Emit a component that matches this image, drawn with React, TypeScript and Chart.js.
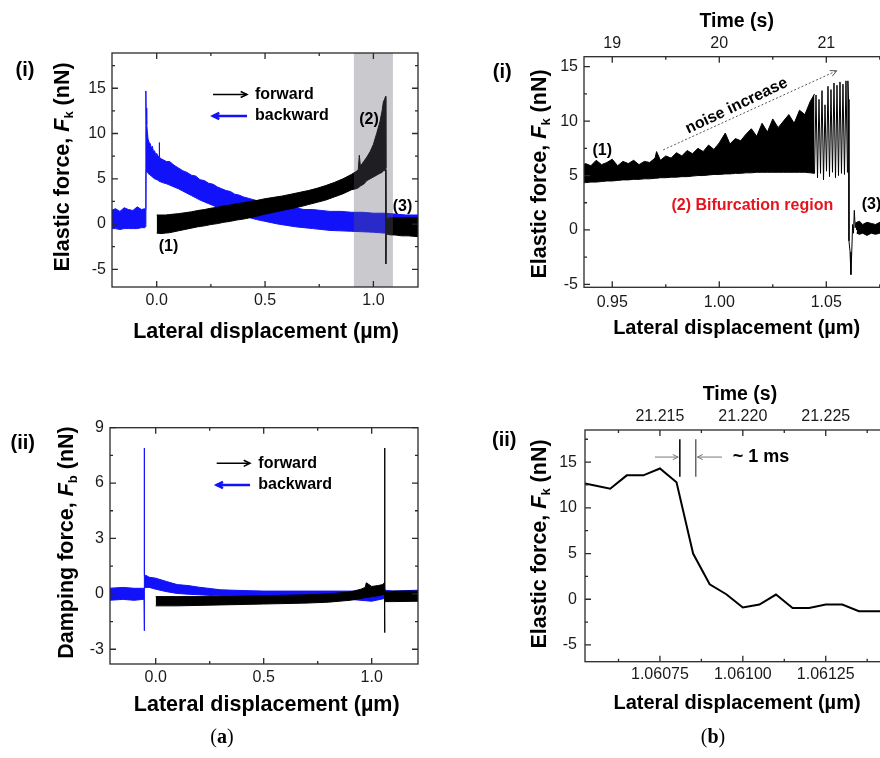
import React, { useEffect, useRef } from "react";
import { Chart, registerables } from "chart.js";

Chart.register(...registerables);

const FONT = '"Liberation Sans", Arial, Helvetica, sans-serif';
const SERIF = '"Liberation Serif", "DejaVu Serif", serif';
const BLUE = "rgb(18,18,250)";
const BLACK = "#000000";
const RED = "rgb(230,20,28)";
const TICK_COLOR = "#1a1a1a";

// ---------------- Panel (a)(i): elastic force ----------------
const aiBwdX = [-0.21, -0.19, -0.17, -0.15, -0.13, -0.11, -0.09, -0.07, -0.056, -0.051, -0.05, -0.049, -0.046, -0.043, -0.04, -0.035, -0.03, -0.025, -0.02, -0.015, -0.01, -0.005, 0.0, 0.006, 0.011, 0.012, 0.013, 0.02, 0.03, 0.045, 0.06, 0.08, 0.1, 0.12, 0.14, 0.16, 0.18, 0.2, 0.22, 0.24, 0.26, 0.28, 0.3, 0.32, 0.34, 0.36, 0.38, 0.4, 0.43, 0.46, 0.5, 0.53, 0.56, 0.6, 0.64, 0.68, 0.72, 0.76, 0.8, 0.85, 0.9, 0.95, 1.0, 1.05, 1.1, 1.15, 1.21];
const aiBwdHi = [1.5, 1.7, 1.4, 1.8, 1.6, 1.5, 1.9, 1.6, 1.7, 1.6, 14.7, 12.8, 11.0, 10.2, 9.4, 9.0, 8.9, 8.4, 8.6, 8.0, 8.1, 7.7, 7.8, 7.5, 7.4, 9.0, 7.4, 7.2, 7.1, 6.9, 6.9, 6.5, 6.2, 5.9, 5.7, 5.4, 5.3, 4.9, 4.8, 4.5, 4.4, 4.1, 3.9, 3.7, 3.6, 3.3, 3.2, 3.0, 2.8, 2.6, 2.4, 2.2, 2.0, 1.9, 1.8, 1.6, 1.6, 1.5, 1.4, 1.4, 1.3, 1.3, 1.2, 1.2, 1.1, 1.0, 1.0];
const aiBwdLo = [-0.5, -0.5, -0.6, -0.5, -0.5, -0.5, -0.5, -0.4, -0.4, -0.3, 0.0, 5.9, 5.8, 5.7, 5.6, 5.5, 5.4, 5.3, 5.2, 5.1, 5.0, 4.95, 4.9, 4.85, 4.8, 4.75, 4.7, 4.65, 4.55, 4.45, 4.3, 4.1, 3.9, 3.65, 3.4, 3.15, 2.9, 2.65, 2.45, 2.25, 2.05, 1.85, 1.65, 1.5, 1.35, 1.2, 1.05, 0.9, 0.7, 0.5, 0.3, 0.15, 0.0, -0.15, -0.3, -0.4, -0.5, -0.6, -0.7, -0.75, -0.8, -0.85, -0.9, -1.0, -1.05, -1.1, -1.2];

const aiFwdX = [0.0, 0.02, 0.04, 0.06, 0.08, 0.1, 0.13, 0.16, 0.19, 0.22, 0.25, 0.28, 0.31, 0.34, 0.37, 0.4, 0.43, 0.46, 0.5, 0.54, 0.58, 0.62, 0.66, 0.7, 0.74, 0.78, 0.82, 0.86, 0.9, 0.92, 0.93, 0.935, 0.94, 0.955, 0.97, 0.985, 1.0, 1.015, 1.03, 1.04, 1.046, 1.052, 1.056, 1.057, 1.058, 1.059, 1.08, 1.1, 1.13, 1.16, 1.21];
const aiFwdHi = [1.0, 1.0, 1.0, 1.05, 1.1, 1.15, 1.25, 1.35, 1.5, 1.6, 1.75, 1.85, 2.0, 2.1, 2.25, 2.35, 2.5, 2.6, 2.8, 2.95, 3.1, 3.3, 3.5, 3.7, 3.95, 4.25, 4.6, 5.0, 5.5, 5.8, 6.0, 7.6, 6.4, 6.9, 7.4, 8.0, 8.8, 10.0, 11.3, 12.5, 13.5, 13.8, 14.1, 13.9, 6.2, 0.6, 0.7, 0.7, 0.7, 0.7, 0.7];
const aiFwdLo = [-1.0, -1.05, -1.0, -0.95, -0.85, -0.75, -0.6, -0.45, -0.3, -0.2, -0.05, 0.05, 0.2, 0.3, 0.45, 0.55, 0.7, 0.85, 1.1, 1.3, 1.5, 1.7, 1.9, 2.15, 2.4, 2.65, 3.0, 3.35, 3.8, 3.9, 4.0, 4.1, 4.2, 4.4, 4.8, 5.0, 5.2, 5.4, 5.6, 5.7, 5.9, 5.9, 6.0, 6.0, -4.4, -1.1, -1.2, -1.2, -1.3, -1.3, -1.4];

const aiBifurcation = [0.91, 1.09];

// ---------------- Panel (a)(ii): damping force ----------------
const aiiBwdX = [-0.22, -0.15, -0.1, -0.06, -0.054, -0.053, -0.052, -0.045, -0.03, 0.0, 0.05, 0.1, 0.15, 0.2, 0.3, 0.4, 0.5, 0.6, 0.8, 1.0, 1.06, 1.1, 1.22];
const aiiBwdHi = [0.3, 0.35, 0.3, 0.3, 0.3, 7.9, 1.0, 1.0, 0.9, 0.85, 0.67, 0.5, 0.45, 0.36, 0.22, 0.18, 0.15, 0.15, 0.15, 0.15, 0.2, 0.15, 0.2];
const aiiBwdLo = [-0.35, -0.3, -0.35, -0.3, -0.3, -2.0, 0.3, 0.35, 0.35, 0.25, 0.12, 0.02, -0.02, -0.05, -0.12, -0.15, -0.18, -0.18, -0.2, -0.4, -0.25, -0.3, -0.3];

const aiiFwdX = [0.0, 0.1, 0.3, 0.5, 0.7, 0.8, 0.9, 0.95, 0.97, 0.975, 1.0, 1.03, 1.05, 1.059, 1.06, 1.061, 1.1, 1.22];
const aiiFwdHi = [-0.15, -0.15, -0.15, -0.1, -0.05, 0.0, 0.1, 0.25, 0.35, 0.6, 0.4, 0.45, 0.5, 0.6, 7.9, 0.1, 0.15, 0.15];
const aiiFwdLo = [-0.65, -0.65, -0.6, -0.55, -0.5, -0.45, -0.35, -0.25, -0.2, -0.2, -0.15, -0.1, -0.05, 0.0, -2.1, -0.42, -0.42, -0.4];

// ---------------- Panel (b)(i): zoom of the bifurcation ----------------
const biBandX = [0.935, 0.9375, 0.94, 0.9425, 0.945, 0.9475, 0.95, 0.9525, 0.955, 0.9575, 0.96, 0.9625, 0.965, 0.9675, 0.97, 0.9707, 0.9725, 0.975, 0.9775, 0.98, 0.9825, 0.985, 0.9875, 0.99, 0.9925, 0.995, 0.9975, 1.0, 1.0028, 1.005, 1.0075, 1.01, 1.0125, 1.015, 1.0175, 1.02, 1.0225, 1.025, 1.0275, 1.03, 1.0325, 1.035, 1.0375, 1.04, 1.0425, 1.0445];
const biBandHi = [5.8, 6.1, 5.9, 6.4, 6.0, 6.2, 6.5, 5.9, 6.3, 6.1, 6.4, 6.0, 6.3, 6.2, 6.6, 7.2, 6.4, 6.8, 6.6, 7.1, 6.8, 7.3, 7.0, 7.5, 7.2, 7.8, 7.4, 8.0, 8.9, 7.9, 8.4, 8.2, 8.8, 9.3, 8.6, 9.8, 9.0, 10.2, 9.4, 10.0, 10.6, 9.8, 11.0, 10.6, 11.8, 12.5];
const biBandLo = [4.3, 4.35, 4.4, 4.4, 4.45, 4.5, 4.5, 4.55, 4.6, 4.6, 4.65, 4.65, 4.7, 4.7, 4.75, 4.75, 4.8, 4.8, 4.85, 4.85, 4.9, 4.9, 4.95, 5.0, 5.0, 5.05, 5.1, 5.1, 5.15, 5.15, 5.2, 5.2, 5.25, 5.25, 5.3, 5.3, 5.3, 5.3, 5.3, 5.3, 5.3, 5.3, 5.3, 5.3, 5.25, 5.2];

const biBifX = [1.0445, 1.0452, 1.0459, 1.0466, 1.0473, 1.048, 1.0487, 1.0494, 1.0501, 1.0508, 1.0515, 1.0522, 1.0529, 1.0536, 1.0543, 1.055, 1.0557, 1.0564, 1.0571, 1.0578, 1.0585, 1.0592, 1.0599, 1.0601, 1.0604, 1.0606, 1.0611, 1.0615, 1.0619, 1.0623, 1.0627, 1.0631, 1.0635, 1.0639, 1.0642];
const biBifY = [5.2, 12.4, 4.8, 12.0, 5.2, 12.8, 4.6, 11.5, 5.4, 13.2, 4.9, 12.9, 5.3, 13.5, 4.8, 13.3, 5.0, 13.6, 5.2, 13.4, 5.1, 13.7, 5.3, 13.7, 12.0, -1.0, -2.0, -4.1, -2.0, 0.5, -0.3, 1.8, 0.2, 0.7, 0.0];

const biTailX = [1.0642, 1.0655, 1.067, 1.069, 1.071, 1.073, 1.075, 1.08, 1.09];
const biTailHi = [0.7, 0.8, 0.5, 0.7, 0.6, 0.5, 0.7, 0.6, 0.6];
const biTailLo = [-0.3, -0.4, -0.3, -0.5, -0.3, -0.4, -0.3, -0.3, -0.3];

// ---------------- Panel (b)(ii): the ~1 ms drop ----------------
const biiX = [1.0605, 1.06055, 1.0606, 1.06065, 1.0607, 1.06075, 1.0608, 1.06085, 1.0609, 1.06095, 1.061, 1.06105, 1.0611, 1.06115, 1.0612, 1.06125, 1.0613, 1.06135, 1.0614, 1.06145];
const biiY = [12.85, 12.47, 12.08, 13.55, 13.55, 14.3, 12.8, 5.0, 1.64, 0.55, -0.9, -0.58, 0.51, -0.95, -0.95, -0.58, -0.58, -1.3, -1.3, -1.3];

// ---------------- Ticks ----------------
const aXTicks = [0, 0.5, 1.0];
const aXTickLabels = ["0.0", "0.5", "1.0"];
const aXMinor = [0.25, 0.75];
const aiYTicks = [-5, 0, 5, 10, 15];
const aiYTickLabels = ["-5", "0", "5", "10", "15"];
const aiYMinor = [-2.5, 2.5, 7.5, 12.5, 17.5];
const aiiYTicks = [-3, 0, 3, 6, 9];
const aiiYTickLabels = ["-3", "0", "3", "6", "9"];
const aiiYMinor = [-1.5, 1.5, 4.5, 7.5];
const biXTicks = [0.95, 1.0, 1.05];
const biXTickLabels = ["0.95", "1.00", "1.05"];
const biXMinor = [0.975, 1.025, 1.075];
const biTimeTicks = [19, 20, 21];
const biTimeLabels = ["19", "20", "21"];
const bYTicks = [-5, 0, 5, 10, 15];
const bYTickLabels = ["-5", "0", "5", "10", "15"];
const bYMinor = [-2.5, 2.5, 7.5, 12.5, 17.5];
const biiXTicks = [1.06075, 1.061, 1.06125];
const biiXTickLabels = ["1.06075", "1.06100", "1.06125"];
const biiXMinor = [1.060625, 1.060875, 1.061125, 1.061375];
const biiTimeTicks = [21.215, 21.22, 21.225];
const biiTimeLabels = ["21.215", "21.220", "21.225"];

// time axis: time = t0 + (x - x0) * rate
const timeRate = 20; // s per µm
const biTimeRef = { x0: 0.95, t0: 19 };
const biiTimeRef = { x0: 1.06075, t0: 21.215 };

// ---------------- drawing helpers ----------------
type Part = { t: string; it?: boolean; sub?: boolean };

function richText(ctx: CanvasRenderingContext2D, parts: Part[], x: number, y: number, size: number, angle = 0, color = "#000") {
  ctx.save();
  ctx.translate(x, y);
  ctx.rotate(angle);
  ctx.fillStyle = color;
  ctx.textBaseline = "middle";
  ctx.textAlign = "left";
  const f = (p: Part) => `${p.it ? "italic " : ""}bold ${p.sub ? Math.round(size * 0.62) : size}px ${FONT}`;
  let w = 0;
  const ws = parts.map((p) => {
    ctx.font = f(p);
    const m = ctx.measureText(p.t).width;
    w += m;
    return m;
  });
  let cx = -w / 2;
  parts.forEach((p, i) => {
    ctx.font = f(p);
    ctx.fillText(p.t, cx, p.sub ? size * 0.3 : 0);
    cx += ws[i];
  });
  ctx.restore();
}

function label(ctx: CanvasRenderingContext2D, t: string, x: number, y: number, size: number, opt: { color?: string; align?: CanvasTextAlign; angle?: number } = {}) {
  ctx.save();
  ctx.translate(x, y);
  ctx.rotate(opt.angle || 0);
  ctx.font = `bold ${size}px ${FONT}`;
  ctx.fillStyle = opt.color || "#000";
  ctx.textAlign = opt.align || "center";
  ctx.textBaseline = "middle";
  ctx.fillText(t, 0, 0);
  ctx.restore();
}

function arrow(ctx: CanvasRenderingContext2D, x1: number, y1: number, x2: number, y2: number, color: string, lw: number, head: number, dash?: number[]) {
  ctx.save();
  ctx.strokeStyle = color;
  ctx.lineWidth = lw;
  if (dash) ctx.setLineDash(dash);
  ctx.beginPath();
  ctx.moveTo(x1, y1);
  ctx.lineTo(x2, y2);
  ctx.stroke();
  ctx.setLineDash([]);
  const a = Math.atan2(y2 - y1, x2 - x1);
  ctx.beginPath();
  ctx.moveTo(x2 - head * Math.cos(a - 0.45), y2 - head * Math.sin(a - 0.45));
  ctx.lineTo(x2, y2);
  ctx.lineTo(x2 - head * Math.cos(a + 0.45), y2 - head * Math.sin(a + 0.45));
  ctx.stroke();
  ctx.restore();
}

function caption(ctx: CanvasRenderingContext2D, letter: string, x: number, y: number) {
  ctx.save();
  ctx.textBaseline = "middle";
  ctx.fillStyle = "#000";
  const size = 20;
  const pn = `${size}px ${SERIF}`;
  const pb = `bold ${size}px ${SERIF}`;
  ctx.font = pn;
  const w1 = ctx.measureText("(").width;
  const w3 = ctx.measureText(")").width;
  ctx.font = pb;
  const w2 = ctx.measureText(letter).width;
  let cx = x - (w1 + w2 + w3) / 2;
  ctx.font = pn;
  ctx.fillText("(", cx, y);
  cx += w1;
  ctx.font = pb;
  ctx.fillText(letter, cx, y);
  cx += w2;
  ctx.font = pn;
  ctx.fillText(")", cx, y);
  ctx.restore();
}

function band(x: number[], hi: number[], lo: number[], color: string) {
  return [
    { data: x.map((v, i) => ({ x: v, y: hi[i] })), borderColor: color, backgroundColor: color, borderWidth: 1, pointRadius: 0, fill: "+1" },
    { data: x.map((v, i) => ({ x: v, y: lo[i] })), borderColor: color, backgroundColor: color, borderWidth: 1, pointRadius: 0, fill: false },
  ];
}

function line(x: number[], y: number[], color: string, width: number) {
  return { data: x.map((v, i) => ({ x: v, y: y[i] })), borderColor: color, backgroundColor: color, borderWidth: width, pointRadius: 0, fill: false };
}

interface Spec {
  W: number;
  H: number;
  plot: { l: number; t: number; r: number; b: number };
  xMin: number;
  xMax: number;
  yMin: number;
  yMax: number;
  xTicks: number[];
  xLabels: string[];
  xMinor: number[];
  yTicks: number[];
  yLabels: string[];
  yMinor: number[];
  top?: { ref: { x0: number; t0: number }; ticks: number[]; labels: string[]; pad: number };
  xPad: number;
  yPad: number;
  datasets: any[];
  overlay?: (chart: any) => void;
  annotate: (chart: any) => void;
}

function frame(chart: any, s: Spec) {
  const { ctx, chartArea: ca, scales } = chart;
  ctx.save();
  ctx.strokeStyle = "#2a2a2a";
  ctx.lineWidth = 1.3;
  ctx.strokeRect(ca.left, ca.top, ca.right - ca.left, ca.bottom - ca.top);
  const xs = scales.x;
  const ys = scales.y;
  const vt = (vals: number[], len: number) => {
    vals.forEach((v) => {
      const px = xs.getPixelForValue(v);
      if (px < ca.left - 0.5 || px > ca.right + 0.5) return;
      ctx.beginPath();
      ctx.moveTo(px, ca.bottom);
      ctx.lineTo(px, ca.bottom - len);
      ctx.moveTo(px, ca.top);
      ctx.lineTo(px, ca.top + len);
      ctx.stroke();
    });
  };
  const ht = (vals: number[], len: number) => {
    vals.forEach((v) => {
      const py = ys.getPixelForValue(v);
      if (py < ca.top - 0.5 || py > ca.bottom + 0.5) return;
      ctx.beginPath();
      ctx.moveTo(ca.left, py);
      ctx.lineTo(ca.left + len, py);
      ctx.moveTo(ca.right, py);
      ctx.lineTo(ca.right - len, py);
      ctx.stroke();
    });
  };
  vt(s.xTicks, 6);
  vt(s.xMinor, 3);
  ht(s.yTicks, 6);
  ht(s.yMinor, 3);
  ctx.restore();
}

function makeConfig(s: Spec): any {
  const tickFont = { family: FONT, size: 16 };
  const scales: any = {
    x: {
      type: "linear",
      position: "bottom",
      min: s.xMin,
      max: s.xMax,
      bounds: "data",
      grid: { display: false, drawTicks: false },
      border: { display: false },
      ticks: {
        font: tickFont,
        color: TICK_COLOR,
        padding: s.xPad,
        autoSkip: false,
        maxRotation: 0,
        minRotation: 0,
        callback: (_v: any, i: number) => s.xLabels[i],
      },
      afterBuildTicks: (sc: any) => {
        sc.ticks = s.xTicks.map((v) => ({ value: v }));
      },
      afterFit: (sc: any) => {
        sc.height = s.H - s.plot.b;
      },
    },
    y: {
      type: "linear",
      position: "left",
      min: s.yMin,
      max: s.yMax,
      bounds: "data",
      grid: { display: false, drawTicks: false },
      border: { display: false },
      ticks: {
        font: tickFont,
        color: TICK_COLOR,
        padding: s.yPad,
        autoSkip: false,
        callback: (_v: any, i: number) => s.yLabels[i],
      },
      afterBuildTicks: (sc: any) => {
        sc.ticks = s.yTicks.map((v) => ({ value: v }));
      },
      afterFit: (sc: any) => {
        sc.width = s.plot.l;
      },
    },
  };
  if (s.top) {
    const tp = s.top;
    scales.x2 = {
      type: "linear",
      position: "top",
      axis: "x",
      min: tp.ref.t0 + (s.xMin - tp.ref.x0) * timeRate,
      max: tp.ref.t0 + (s.xMax - tp.ref.x0) * timeRate,
      bounds: "data",
      grid: { display: false, drawTicks: false },
      border: { display: false },
      ticks: {
        font: tickFont,
        color: TICK_COLOR,
        padding: tp.pad,
        autoSkip: false,
        maxRotation: 0,
        minRotation: 0,
        callback: (_v: any, i: number) => tp.labels[i],
      },
      afterBuildTicks: (sc: any) => {
        sc.ticks = tp.ticks.map((v) => ({ value: v }));
      },
      afterFit: (sc: any) => {
        sc.height = s.plot.t;
      },
    };
  }
  return {
    type: "line",
    data: { datasets: s.datasets },
    options: {
      responsive: false,
      maintainAspectRatio: false,
      animation: false,
      devicePixelRatio: 1,
      events: [],
      layout: { padding: { left: 0, right: s.W - s.plot.r, top: s.top ? 0 : s.plot.t, bottom: 0 } },
      plugins: { legend: { display: false }, tooltip: { enabled: false } },
      elements: { point: { radius: 0 }, line: { tension: 0 } },
      scales,
    },
    plugins: [
      {
        id: "deco",
        afterDraw: (chart: any) => {
          if (s.overlay) s.overlay(chart);
          frame(chart, s);
          s.annotate(chart);
        },
      },
    ],
  };
}

const elasticTitle: Part[] = [{ t: "Elastic force, " }, { t: "F", it: true }, { t: "k", sub: true }, { t: " (nN)" }];
const dampingTitle: Part[] = [{ t: "Damping force, " }, { t: "F", it: true }, { t: "b", sub: true }, { t: " (nN)" }];
const xTitle: Part[] = [{ t: "Lateral displacement (\u00b5m)" }];

function legend(ctx: CanvasRenderingContext2D, x1: number, x2: number, tx: number, yF: number, yB: number) {
  arrow(ctx, x1, yF, x2, yF, BLACK, 1.5, 7);
  label(ctx, "forward", tx, yF, 16, { align: "left" });
  arrow(ctx, x2, yB, x1, yB, BLUE, 2.5, 7);
  label(ctx, "backward", tx, yB, 16, { align: "left" });
}

const specAi: Spec = {
  W: 440,
  H: 360,
  plot: { l: 112, t: 53, r: 418, b: 287 },
  xMin: -0.2063,
  xMax: 1.2058,
  yMin: -6.95,
  yMax: 18.89,
  xTicks: aXTicks,
  xLabels: aXTickLabels,
  xMinor: aXMinor,
  yTicks: aiYTicks,
  yLabels: aiYTickLabels,
  yMinor: aiYMinor,
  xPad: 4,
  yPad: 6,
  datasets: [...band(aiFwdX, aiFwdHi, aiFwdLo, BLACK), ...band(aiBwdX, aiBwdHi, aiBwdLo, BLUE)],
  overlay: (chart) => {
    const { ctx, chartArea: ca, scales } = chart;
    const x0 = scales.x.getPixelForValue(aiBifurcation[0]);
    const x1 = scales.x.getPixelForValue(aiBifurcation[1]);
    ctx.save();
    ctx.fillStyle = "rgba(90,90,105,0.33)";
    ctx.fillRect(x0, ca.top, x1 - x0, ca.bottom - ca.top);
    ctx.restore();
  },
  annotate: (chart) => {
    const ctx = chart.ctx;
    label(ctx, "(i)", 25, 70, 20);
    richText(ctx, elasticTitle, 63, 167, 21.5, -Math.PI / 2);
    richText(ctx, xTitle, 266, 332, 21.5);
    legend(ctx, 213, 247, 255, 94.5, 116);
    label(ctx, "(1)", 168.5, 246.5, 16);
    label(ctx, "(2)", 369, 120, 16);
    label(ctx, "(3)", 402.5, 206.5, 16);
  },
};

const specAii: Spec = {
  W: 440,
  H: 398,
  plot: { l: 110, t: 67.7, r: 418, b: 304 },
  xMin: -0.2116,
  xMax: 1.2144,
  yMin: -3.8,
  yMax: 9.0,
  xTicks: aXTicks,
  xLabels: aXTickLabels,
  xMinor: aXMinor,
  yTicks: aiiYTicks,
  yLabels: aiiYTickLabels,
  yMinor: aiiYMinor,
  xPad: 4,
  yPad: 6,
  datasets: [...band(aiiFwdX, aiiFwdHi, aiiFwdLo, BLACK), ...band(aiiBwdX, aiiBwdHi, aiiBwdLo, BLUE)],
  annotate: (chart) => {
    const ctx = chart.ctx;
    label(ctx, "(ii)", 22.7, 83.3, 20);
    richText(ctx, dampingTitle, 66.7, 182.5, 21.5, -Math.PI / 2);
    richText(ctx, xTitle, 266.7, 345, 21.5);
    legend(ctx, 216.7, 250, 258.3, 103.3, 125);
    caption(ctx, "a", 222, 378);
  },
};

const specBi: Spec = {
  W: 470,
  H: 360,
  plot: { l: 144, t: 56.7, r: 460, b: 287.3 },
  xMin: 0.9368,
  xMax: 1.08444,
  yMin: -5.27,
  yMax: 15.92,
  xTicks: biXTicks,
  xLabels: biXTickLabels,
  xMinor: biXMinor,
  yTicks: bYTicks,
  yLabels: bYTickLabels,
  yMinor: bYMinor,
  top: { ref: biTimeRef, ticks: biTimeTicks, labels: biTimeLabels, pad: 4 },
  xPad: 6,
  yPad: 6,
  datasets: [line(biBifX, biBifY, BLACK, 1), ...band(biBandX, biBandHi, biBandLo, BLACK), ...band(biTailX, biTailHi, biTailLo, BLACK)],
  annotate: (chart) => {
    const { ctx, scales } = chart;
    const sx = (v: number) => scales.x.getPixelForValue(v);
    const sy = (v: number) => scales.y.getPixelForValue(v);
    label(ctx, "(i)", 62.3, 72.7, 20);
    richText(ctx, elasticTitle, 100, 174, 21.5, -Math.PI / 2);
    richText(ctx, xTitle, 296.7, 328.3, 20);
    richText(ctx, [{ t: "Time (s)" }], 296.7, 21.7, 19.5);
    label(ctx, "(1)", 162.3, 150.7, 16);
    label(ctx, "(2) Bifurcation region", 312.3, 205.7, 16, { color: RED });
    label(ctx, "(3)", 421.7, 205, 16, { align: "left" });
    arrow(ctx, sx(0.9738), sy(7.36), sx(1.0549), sy(14.63), "#555", 1, 7, [2, 2]);
    label(ctx, "noise increase", sx(1.0081), sy(11.4), 16, { angle: -0.445 });
  },
};

const specBii: Spec = {
  W: 470,
  H: 398,
  plot: { l: 145, t: 70, r: 460, b: 301.7 },
  xMin: 1.060524,
  xMax: 1.061474,
  yMin: -6.83,
  yMax: 18.51,
  xTicks: biiXTicks,
  xLabels: biiXTickLabels,
  xMinor: biiXMinor,
  yTicks: bYTicks,
  yLabels: bYTickLabels,
  yMinor: bYMinor,
  top: { ref: biiTimeRef, ticks: biiTimeTicks, labels: biiTimeLabels, pad: 4 },
  xPad: 3,
  yPad: 8,
  datasets: [line(biiX, biiY, BLACK, 2)],
  annotate: (chart) => {
    const { ctx, scales } = chart;
    const sx = (v: number) => scales.x.getPixelForValue(v);
    const sy = (v: number) => scales.y.getPixelForValue(v);
    label(ctx, "(ii)", 64.3, 80, 20);
    richText(ctx, elasticTitle, 100, 184, 21.5, -Math.PI / 2);
    richText(ctx, xTitle, 297, 343, 20);
    richText(ctx, [{ t: "Time (s)" }], 300, 35, 19.5);
    ctx.save();
    ctx.lineWidth = 1.5;
    ctx.strokeStyle = "#000";
    ctx.beginPath();
    ctx.moveTo(sx(1.06081), sy(17.5));
    ctx.lineTo(sx(1.06081), sy(13.4));
    ctx.stroke();
    ctx.strokeStyle = "#666";
    ctx.beginPath();
    ctx.moveTo(sx(1.060858), sy(17.5));
    ctx.lineTo(sx(1.060858), sy(13.4));
    ctx.stroke();
    ctx.restore();
    arrow(ctx, sx(1.060735), sy(15.55), sx(1.060805), sy(15.55), "#777", 1, 6);
    arrow(ctx, sx(1.060937), sy(15.55), sx(1.060863), sy(15.55), "#777", 1, 6);
    label(ctx, "~ 1 ms", 292.7, 97, 18, { align: "left" });
    caption(ctx, "b", 273, 378);
  },
};

function Panel({ spec, left, top }: { spec: Spec; left: number; top: number }) {
  const ref = useRef<HTMLCanvasElement | null>(null);
  useEffect(() => {
    if (!ref.current) return;
    const chart = new Chart(ref.current, makeConfig(spec));
    return () => chart.destroy();
  }, [spec]);
  return (
    <canvas
      ref={ref}
      width={spec.W}
      height={spec.H}
      style={{ position: "absolute", left, top, width: spec.W, height: spec.H, display: "block" }}
    />
  );
}

export default function App() {
  return (
    <div style={{ position: "fixed", left: 0, top: 0, width: 880, height: 758, overflow: "hidden", background: "#ffffff" }}>
      <Panel spec={specAi} left={0} top={0} />
      <Panel spec={specBi} left={440} top={0} />
      <Panel spec={specAii} left={0} top={360} />
      <Panel spec={specBii} left={440} top={360} />
    </div>
  );
}
